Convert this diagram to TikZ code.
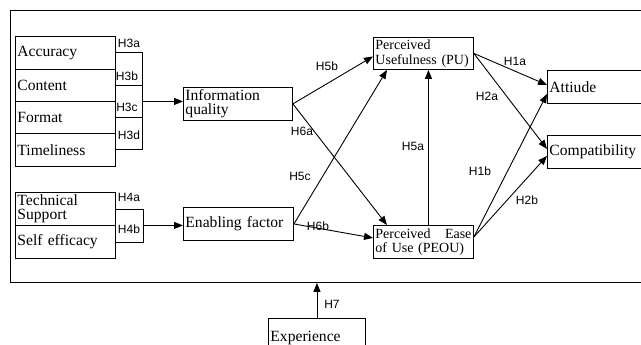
\documentclass[tikz,border=0pt]{standalone}
\usepackage{fontspec}
\setmainfont{Liberation Serif}
\newfontfamily\hypfont{Liberation Sans}
\usetikzlibrary{arrows.meta,calc}

\begin{document}
\begin{tikzpicture}[x=1pt,y=-1pt,line width=0.9pt,
  box/.style={draw,anchor=north west,inner sep=2pt,align=left,font=\fontsize{15.6}{14.5}\selectfont},
  smallbox/.style={box,font=\fontsize{14}{14.5}\selectfont},
  hyp/.style={font=\hypfont\fontsize{12}{12}\selectfont,inner sep=1pt},
  arr/.style={-{Triangle[length=9pt,width=7pt]}}]
  \useasboundingbox (0,0) rectangle (641,345);
  \clip (0,0) rectangle (641,345);
  % outer frame
  \node[draw,anchor=north west,minimum width=700pt,minimum height=272pt,inner sep=0pt] (frame) at (10,10) {};
  % information quality items
  \node[box,text width=96pt,minimum height=33pt] (acc) at (15,36) {Accuracy};
  \node[box,text width=96pt,minimum height=32pt] (con) at (15,69) {Content};
  \node[box,text width=96pt,minimum height=32pt] (fmt) at (15,101) {Format};
  \node[box,text width=96pt,minimum height=33pt] (tim) at (15,133) {Timeliness};
  % enabling factor items
  \node[box,text width=96pt,minimum height=33pt] (tech) at (15,192) {Technical\\Support};
  \node[box,text width=96pt,minimum height=33pt] (self) at (15,225) {Self efficacy};
  % constructs
  \node[box,text width=105pt,minimum height=32pt] (iq) at (183,87) {Information\\quality};
  \node[box,text width=106pt,minimum height=33pt] (ef) at (183,207) {Enabling factor};
  \node[smallbox,text width=96pt,minimum height=32pt] (pu) at (373,37) {Perceived\\Usefulness (PU)};
  \node[smallbox,text width=96pt,minimum height=33pt] (peou) at (373,225) {Perceived\hfill Ease\\of Use (PEOU)};
  \node[box,text width=96pt,minimum height=33pt] (att) at (547,70) {Attiude};
  \node[box,text width=96pt,minimum height=33pt] (comp) at (547,135) {Compatibility};
  \node[box,text width=93pt,minimum height=40pt] (exp) at (268,318) {Experience};
  % brackets
  \draw (acc.east) -- ++(27,0) |- (tim.east);
  \draw (con.east) -- ++(27,0);
  \draw (fmt.east) -- ++(27,0);
  \coordinate (b3) at ([xshift=27pt]$(acc.east)!.5!(tim.east)$);
  \draw[arr] (b3) -- (b3 -| iq.west);
  \draw (tech.east) -- ++(28,0) |- (self.east);
  \coordinate (b4) at ([xshift=28pt]$(tech.east)!.5!(self.east)$);
  \draw[arr] (b4) -- (b4 -| ef.west);
  % paths
  \draw[arr] (iq.east) -- ([yshift=-3pt]pu.west);
  \draw[arr] (iq.east) -- ([xshift=14pt]peou.north west);
  \draw[arr] (ef.east) -- ([xshift=14pt]pu.south west);
  \draw[arr] (ef.east) -- ([yshift=4pt]peou.west);
  \draw[arr] ([xshift=5pt]peou.north) -- ([xshift=5pt]pu.south);
  \draw[arr] (pu.east) -- ([yshift=2pt]att.west);
  \draw[arr] (pu.east) -- ([yshift=3pt]comp.west);
  \draw[arr] ([yshift=5pt]peou.east) -- ([yshift=-7pt]att.west);
  \draw[arr] ([yshift=5pt]peou.east) -- ([yshift=-4pt]comp.west);
  \draw[arr] (exp.north) -- (exp.north |- frame.south);
  % hypothesis labels
  \node[hyp] (h3a) at (129,43) {H3a};
  \node[hyp] (h3b) at (127,76) {H3b};
  \node[hyp] (h3c) at (127,107) {H3c};
  \node[hyp] (h3d) at (129,135) {H3d};
  \node[hyp] (h4a) at (129,197) {H4a};
  \node[hyp] (h4b) at (129,229) {H4b};
  \node[hyp] (h5b) at (327,66) {H5b};
  \node[hyp] (h6a) at (302,131) {H6a};
  \node[hyp] (h5c) at (300,176) {H5c};
  \node[hyp] (h6b) at (318,226) {H6b};
  \node[hyp] (h5a) at (413,146) {H5a};
  \node[hyp] (h1a) at (515,61) {H1a};
  \node[hyp] (h2a) at (487,96) {H2a};
  \node[hyp] (h1b) at (480,171) {H1b};
  \node[hyp] (h2b) at (527,200) {H2b};
  \node[hyp] (h7) at (332,304) {H7};
\end{tikzpicture}
\end{document}
